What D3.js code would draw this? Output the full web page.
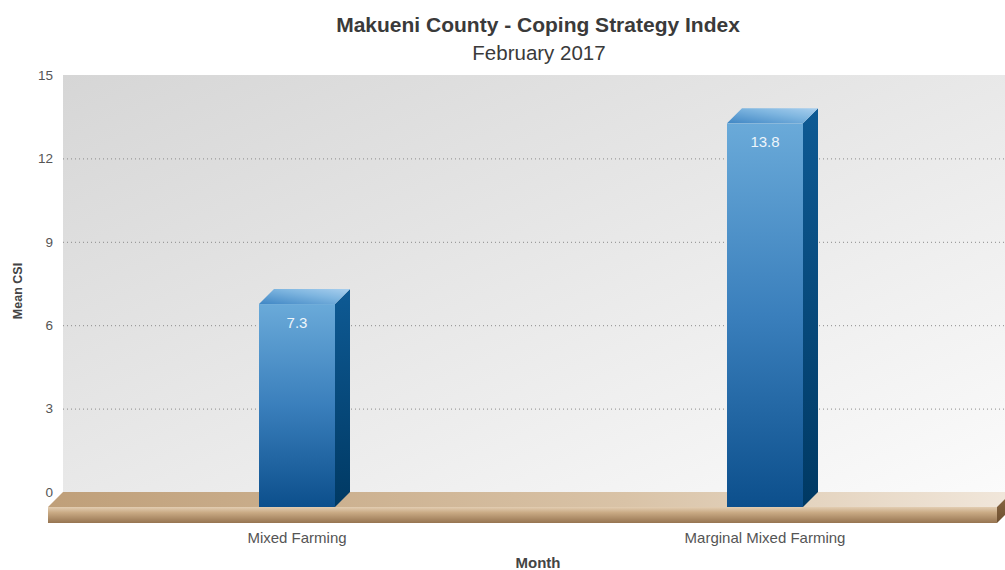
<!DOCTYPE html>
<html><head><meta charset="utf-8">
<script src="https://cdn.jsdelivr.net/npm/d3@7"></script>
<style>body{margin:0;background:#fff}svg{display:block;font-family:"Liberation Sans",Arial,sans-serif}</style>
</head><body><svg id="c" width="1005" height="570"></svg>
<script>
const categories = ["Mixed Farming", "Marginal Mixed Farming"];
const values = [7.3, 13.8];
const yTicks = [0, 3, 6, 9, 12, 15];
const title = "Makueni County - Coping Strategy Index";
const subtitle = "February 2017";
const xTitle = "Month";
const yTitle = "Mean CSI";

const svg = d3.select("#c");
const dx = 15, dy = 15;              // 3D depth offset
const backLeft = 63, backRight = 1010;
const yBack = d3.scaleLinear().domain([0, 15]).range([492, 75]);
const yFront = v => yBack(v) + dy;
const x = d3.scalePoint().domain(categories).range([63, 999]).padding(0.5);
const barW = 76;

const defs = svg.append("defs");
function lg(id, x1, y1, x2, y2, stops) {
  const g = defs.append("linearGradient").attr("id", id)
    .attr("x1", x1).attr("y1", y1).attr("x2", x2).attr("y2", y2);
  stops.forEach(([o, c]) => g.append("stop").attr("offset", o).attr("stop-color", c));
}
lg("wall", 0, 0, 1, 1, [[0, "#d6d6d6"], [1, "#fbfbfb"]]);
lg("floorTop", 0, 0, 1, 0, [[0, "#bf9f79"], [0.6, "#d9c3a7"], [1, "#f1e7db"]]);
lg("floorFront", 0, 0, 0, 1, [[0, "#e2cdb2"], [0.35, "#c9aa84"], [1, "#967451"]]);
lg("floorSide", 0, 0, 0, 1, [[0, "#8d6a45"], [1, "#6e5030"]]);
lg("barFront", 0, 0, 0, 1, [[0, "#6aaad9"], [0.5, "#3a7fbc"], [1, "#0c4f8c"]]);
lg("barSide", 0, 0, 0, 1, [[0, "#0e5a94"], [1, "#003963"]]);
lg("barTop", 0, 1, 1, 0, [[0, "#3f86c4"], [0.6, "#7fb6e0"], [1, "#a9cfee"]]);

// back wall
svg.append("rect").attr("x", backLeft).attr("y", yBack(15))
  .attr("width", backRight - backLeft).attr("height", yBack(0) - yBack(15))
  .attr("fill", "url(#wall)");

// grid lines on back wall
svg.append("g").selectAll("line").data(yTicks.filter(d => d > 0 && d < 15)).join("line")
  .attr("x1", backLeft).attr("x2", backRight)
  .attr("y1", d => yBack(d) + 0.5).attr("y2", d => yBack(d) + 0.5)
  .attr("stroke", "#8a8a8a").attr("stroke-width", 1).attr("stroke-dasharray", "1,3");

// y axis labels
svg.append("g").selectAll("text").data(yTicks).join("text")
  .attr("x", 53).attr("y", d => yBack(d)).attr("dy", "0.35em")
  .attr("text-anchor", "end").attr("font-size", 13.5).attr("fill", "#555")
  .text(d => d);

// floor
const fy0 = yBack(0), fFront = fy0 + dy, fThick = 16;
const fL = backLeft - dx, fR = 997;
svg.append("path").attr("fill", "url(#floorTop)")
  .attr("d", `M${backLeft},${fy0} L${fR + dx},${fy0} L${fR},${fFront} L${fL},${fFront} Z`);
svg.append("rect").attr("x", fL).attr("y", fFront).attr("width", fR - fL).attr("height", fThick)
  .attr("fill", "url(#floorFront)");
svg.append("path").attr("fill", "url(#floorSide)")
  .attr("d", `M${fR},${fFront} L${fR + dx},${fy0} L${fR + dx},${fy0 + fThick} L${fR},${fFront + fThick} Z`);

// bars
const bars = svg.append("g").selectAll("g").data(categories.map((c, i) => ({c, v: values[i]}))).join("g");
bars.append("path").attr("fill", "url(#barSide)")
  .attr("d", d => {
    const r = x(d.c) + barW / 2, t = yFront(d.v), b = yFront(0);
    return `M${r},${t} L${r + dx},${t - dy} L${r + dx},${b - dy} L${r},${b} Z`;
  });
bars.append("path").attr("fill", "url(#barTop)")
  .attr("d", d => {
    const l = x(d.c) - barW / 2, r = l + barW, t = yFront(d.v);
    return `M${l},${t} L${l + dx},${t - dy} L${r + dx},${t - dy} L${r},${t} Z`;
  });
bars.append("rect").attr("fill", "url(#barFront)")
  .attr("x", d => x(d.c) - barW / 2).attr("y", d => yFront(d.v))
  .attr("width", barW).attr("height", d => yFront(0) - yFront(d.v));
bars.append("text").attr("x", d => x(d.c)).attr("y", d => yFront(d.v) + 24)
  .attr("text-anchor", "middle").attr("font-size", 15).attr("fill", "#eef5fb")
  .text(d => d.v);

// x labels
svg.append("g").selectAll("text").data(categories).join("text")
  .attr("x", d => x(d)).attr("y", 543).attr("text-anchor", "middle")
  .attr("font-size", 15).attr("fill", "#555").text(d => d);

// titles
svg.append("text").attr("x", 538).attr("y", 32).attr("text-anchor", "middle")
  .attr("font-size", 21).attr("font-weight", "bold").attr("fill", "#3a3a3a").text(title);
svg.append("text").attr("x", 539).attr("y", 60).attr("text-anchor", "middle")
  .attr("font-size", 20.5).attr("fill", "#3a3a3a").text(subtitle);
svg.append("text").attr("x", 538).attr("y", 568).attr("text-anchor", "middle")
  .attr("font-size", 15).attr("font-weight", "bold").attr("fill", "#444").text(xTitle);
svg.append("text").attr("transform", "translate(22,291) rotate(-90)").attr("text-anchor", "middle")
  .attr("font-size", 12.5).attr("font-weight", "bold").attr("fill", "#444").text(yTitle);
</script></body></html>
